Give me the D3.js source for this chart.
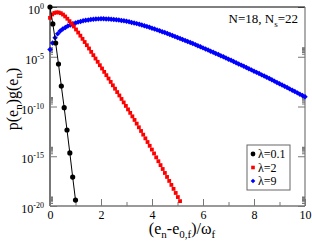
<!DOCTYPE html>
<html>
<head>
<meta charset="utf-8">
<script src="https://cdn.jsdelivr.net/npm/d3@7"></script>
<style>
  body { margin: 0; background: #fff; }
  svg { display: block; }
  text { font-family: "Liberation Serif", "DejaVu Serif", serif; }
</style>
</head>
<body>
<div id="chart"></div>
<script>
// energies (in units of w_f) and log10 of p(e_n)g(e_n)
const blackE = [0, 0.111, 0.222, 0.333, 0.444, 0.556, 0.667, 0.778, 0.889, 1.0];
const blackLog = [0, -1.7, -3.62, -5.73, -7.94, -10.12, -12.36, -14.67, -17.09, -19.4];

const redE = [0, 0.085, 0.17, 0.255, 0.34, 0.425, 0.51, 0.595, 0.68, 0.765,
  0.85, 0.935, 1.02, 1.105, 1.19, 1.275, 1.36, 1.445, 1.53, 1.615,
  1.7, 1.785, 1.87, 1.955, 2.04, 2.125, 2.21, 2.295, 2.38, 2.465,
  2.55, 2.635, 2.72, 2.805, 2.89, 2.975, 3.06, 3.145, 3.23, 3.315,
  3.4, 3.485, 3.57, 3.655, 3.74, 3.825, 3.91, 3.995, 4.08, 4.165,
  4.25, 4.335, 4.42, 4.505, 4.59, 4.675, 4.76, 4.845, 4.93, 5.015, 5.1];
const redLog = [-1.09, -0.75, -0.6, -0.54, -0.55, -0.62, -0.76, -0.95, -1.18, -1.42,
  -1.67, -1.96, -2.26, -2.57, -2.88, -3.2, -3.52, -3.84, -4.17, -4.51,
  -4.84, -5.18, -5.51, -5.85, -6.18, -6.52, -6.85, -7.19, -7.53, -7.87,
  -8.21, -8.55, -8.89, -9.24, -9.59, -9.94, -10.29, -10.64, -10.99, -11.35,
  -11.72, -12.09, -12.46, -12.83, -13.2, -13.57, -13.95, -14.33, -14.72, -15.11,
  -15.5, -15.89, -16.28, -16.68, -17.08, -17.48, -17.88, -18.28, -18.69, -19.1, -19.51];

const blueE = [0, 0.1, 0.2, 0.3, 0.4, 0.5, 0.6, 0.7, 0.8, 0.9,
  1.0, 1.1, 1.2, 1.3, 1.4, 1.5, 1.6, 1.7, 1.8, 1.9,
  2.0, 2.1, 2.2, 2.3, 2.4, 2.5, 2.6, 2.7, 2.8, 2.9,
  3.0, 3.1, 3.2, 3.3, 3.4, 3.5, 3.6, 3.7, 3.8, 3.9,
  4.0, 4.1, 4.2, 4.3, 4.4, 4.5, 4.6, 4.7, 4.8, 4.9,
  5.0, 5.1, 5.2, 5.3, 5.4, 5.5, 5.6, 5.7, 5.8, 5.9,
  6.0, 6.1, 6.2, 6.3, 6.4, 6.5, 6.6, 6.7, 6.8, 6.9,
  7.0, 7.1, 7.2, 7.3, 7.4, 7.5, 7.6, 7.7, 7.8, 7.9,
  8.0, 8.1, 8.2, 8.3, 8.4, 8.5, 8.6, 8.7, 8.8, 8.9,
  9.0, 9.1, 9.2, 9.3, 9.4, 9.5, 9.6, 9.7, 9.8, 9.9, 10.0];
const blueLog = [-4.28, -3.62, -3.08, -2.7, -2.42, -2.22, -2.05, -1.91, -1.8, -1.69,
  -1.6, -1.52, -1.45, -1.39, -1.34, -1.3, -1.26, -1.235, -1.21, -1.195,
  -1.19, -1.19, -1.2, -1.21, -1.23, -1.25, -1.28, -1.31, -1.35, -1.39,
  -1.44, -1.49, -1.55, -1.61, -1.67, -1.74, -1.81, -1.89, -1.96, -2.04,
  -2.13, -2.21, -2.3, -2.39, -2.48, -2.57, -2.67, -2.76, -2.86, -2.96,
  -3.06, -3.16, -3.26, -3.36, -3.46, -3.57, -3.67, -3.78, -3.89, -4.0,
  -4.11, -4.22, -4.33, -4.44, -4.55, -4.67, -4.78, -4.9, -5.01, -5.13,
  -5.25, -5.36, -5.48, -5.6, -5.72, -5.84, -5.96, -6.08, -6.2, -6.32,
  -6.45, -6.57, -6.69, -6.82, -6.94, -7.07, -7.19, -7.32, -7.45, -7.58,
  -7.71, -7.84, -7.97, -8.1, -8.23, -8.36, -8.49, -8.63, -8.76, -8.89, -9.03];

const xMajor = [0, 2, 4, 6, 8, 10];
const xMinor = [1, 3, 5, 7, 9];
const yMajorExp = [0, -5, -10, -15, -20];
const legendLabels = ["λ=0.1", "λ=2", "λ=9"];

const width = 312, height = 244;
const margin = { left: 50, right: 7, top: 7, bottom: 38 };
const plotW = width - margin.left - margin.right;
const plotH = height - margin.top - margin.bottom;

const svg = d3.select('#chart').append('svg')
  .attr('width', width)
  .attr('height', height);

const g = svg.append('g')
  .attr('transform', `translate(${margin.left},${margin.top})`);

const x = d3.scaleLinear().domain([0, 10]).range([0, plotW]);
const y = d3.scaleLog().domain([1e-20, 1]).range([plotH, 0]);

const toPoints = (es, logs) => es.map((e, i) => ({ e: e, p: Math.pow(10, logs[i]) }));
const blackPts = toPoints(blackE, blackLog);
const redPts = toPoints(redE, redLog);
const bluePts = toPoints(blueE, blueLog);

// ticks
const yMajor = yMajorExp.map(k => Math.pow(10, k));
const yMinor = [];
yMajorExp.forEach(k => {
  for (let m = 2; m <= 9; m++) {
    const v = m * Math.pow(10, k);
    if (v < 1) yMinor.push(v);
  }
});

const tickColor = '#777';
function styleAxis(sel) {
  sel.select('.domain').remove();
  sel.selectAll('line').attr('stroke', tickColor);
}

g.append('g').attr('transform', `translate(0,${plotH})`)
  .call(d3.axisBottom(x).tickValues(xMajor).tickSize(-7).tickPadding(4).tickFormat(d3.format('d')))
  .call(styleAxis)
  .selectAll('text')
  .attr('fill', '#000')
  .style('font-size', '12px');

g.append('g').attr('transform', `translate(0,${plotH})`)
  .call(d3.axisBottom(x).tickValues(xMinor).tickSize(-4).tickFormat(''))
  .call(styleAxis);

g.append('g')
  .call(d3.axisLeft(y).tickValues(yMajor).tickSize(-7).tickFormat(''))
  .call(styleAxis);

g.append('g')
  .call(d3.axisLeft(y).tickValues(yMinor).tickSize(-3).tickFormat(''))
  .call(styleAxis);

g.append('g').attr('transform', `translate(${plotW},0)`)
  .call(d3.axisRight(y).tickValues(yMajor).tickSize(-7).tickFormat(''))
  .call(styleAxis);

g.append('g').attr('transform', `translate(${plotW},0)`)
  .call(d3.axisRight(y).tickValues(yMinor).tickSize(-3).tickFormat(''))
  .call(styleAxis);

// y tick labels 10^k
yMajorExp.forEach(k => {
  const t = g.append('text')
    .attr('x', -6)
    .attr('y', y(Math.pow(10, k)) + 7)
    .attr('text-anchor', 'end')
    .style('font-size', '12px');
  t.append('tspan').text('10');
  t.append('tspan').attr('dy', -5).style('font-size', '8px').text(k === 0 ? '0' : String(k));
});

// frame
g.append('line').attr('x1', 0).attr('x2', plotW).attr('y1', 0).attr('y2', 0)
  .attr('stroke', '#000').attr('stroke-width', 1);
g.append('line').attr('x1', plotW).attr('x2', plotW).attr('y1', 0).attr('y2', plotH)
  .attr('stroke', tickColor).attr('stroke-width', 1.2);
g.append('line').attr('x1', 0).attr('x2', plotW).attr('y1', plotH).attr('y2', plotH)
  .attr('stroke', tickColor).attr('stroke-width', 1.6);
g.append('line').attr('x1', 0).attr('x2', 0).attr('y1', 0).attr('y2', plotH)
  .attr('stroke', tickColor).attr('stroke-width', 2);

// lambda = 9 : blue diamonds
const diamond = d3.symbol().type(d3.symbolDiamond2).size(19);
g.append('g').selectAll('path')
  .data(bluePts)
  .enter()
  .append('path')
  .attr('d', diamond)
  .attr('transform', d => `translate(${x(d.e)},${y(d.p)})`)
  .attr('fill', '#0000ff');

// lambda = 2 : red squares
g.append('g').selectAll('rect')
  .data(redPts)
  .enter()
  .append('rect')
  .attr('x', d => x(d.e) - 1.9)
  .attr('y', d => y(d.p) - 1.9)
  .attr('width', 3.8)
  .attr('height', 3.8)
  .attr('fill', '#ff0000');

// lambda = 0.1 : black line + circles
g.append('path')
  .datum(blackPts)
  .attr('fill', 'none')
  .attr('stroke', '#000')
  .attr('stroke-width', 1)
  .attr('d', d3.line().x(d => x(d.e)).y(d => y(d.p)));

g.append('g').selectAll('circle')
  .data(blackPts)
  .enter()
  .append('circle')
  .attr('cx', d => x(d.e))
  .attr('cy', d => y(d.p))
  .attr('r', 2.6)
  .attr('fill', '#000');

// legend
const lg = svg.append('g').attr('transform', 'translate(247,145)');
lg.append('rect')
  .attr('width', 43).attr('height', 45)
  .attr('fill', '#fff').attr('stroke', '#666').attr('stroke-width', 1);
legendLabels.forEach((lab, i) => {
  const cy = 9 + i * 13.5;
  if (i === 0) lg.append('circle').attr('cx', 6).attr('cy', cy).attr('r', 2.4).attr('fill', '#000');
  if (i === 1) lg.append('rect').attr('x', 4.2).attr('y', cy - 1.8).attr('width', 3.6).attr('height', 3.6).attr('fill', '#ff0000');
  if (i === 2) lg.append('path').attr('d', d3.symbol().type(d3.symbolDiamond2).size(14)).attr('transform', `translate(6,${cy})`).attr('fill', '#0000ff');
  lg.append('text').attr('x', 11).attr('y', cy + 4).style('font-size', '12px').text(lab);
});

// annotation
const ann = svg.append('text')
  .attr('x', 298).attr('y', 23)
  .attr('text-anchor', 'end')
  .style('font-size', '13px');
ann.append('tspan').text('N=18, N');
ann.append('tspan').attr('dy', 4).style('font-size', '9px').text('s');
ann.append('tspan').attr('dy', -4).text('=22');

// axis titles
const xt = svg.append('text')
  .attr('x', 182).attr('y', 234)
  .attr('text-anchor', 'middle')
  .style('font-size', '16px');
xt.append('tspan').text('(e');
xt.append('tspan').attr('dy', 4).style('font-size', '11px').text('n');
xt.append('tspan').attr('dy', -4).text('-e');
xt.append('tspan').attr('dy', 4).style('font-size', '11px').text('0,f');
xt.append('tspan').attr('dy', -4).text(')/ω');
xt.append('tspan').attr('dy', 4).style('font-size', '11px').text('f');

const yt = svg.append('text')
  .attr('transform', 'translate(18,99) rotate(-90)')
  .attr('text-anchor', 'middle')
  .style('font-size', '16px');
yt.append('tspan').text('p(e');
yt.append('tspan').attr('dy', 4).style('font-size', '11px').text('n');
yt.append('tspan').attr('dy', -4).text(')g(e');
yt.append('tspan').attr('dy', 4).style('font-size', '11px').text('n');
yt.append('tspan').attr('dy', -4).text(')');
</script>
</body>
</html>
